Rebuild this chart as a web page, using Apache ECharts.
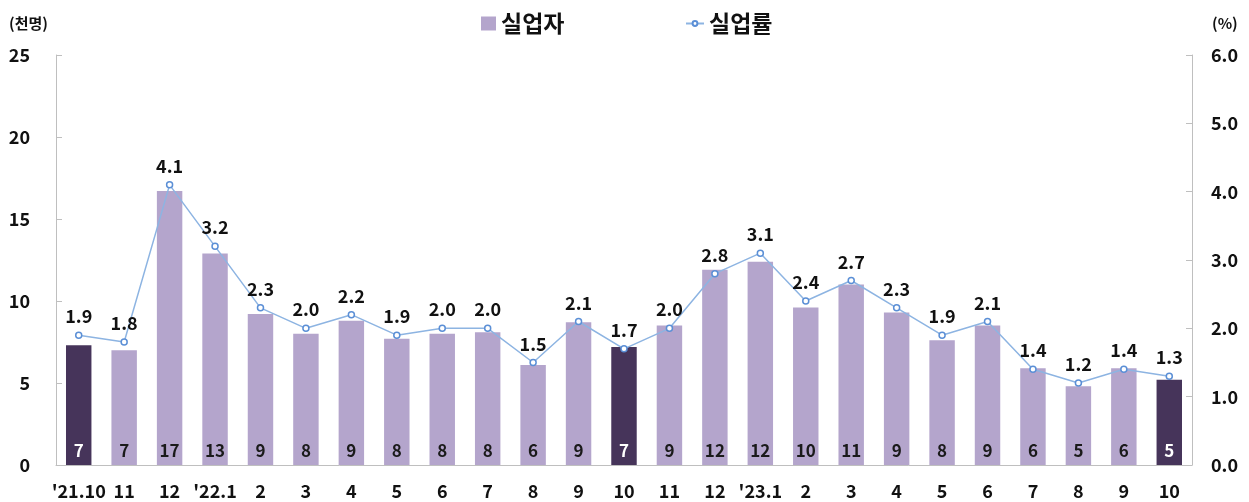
<!DOCTYPE html>
<html><head><meta charset="utf-8">
<script src="https://cdn.jsdelivr.net/npm/echarts@6/dist/echarts.min.js"></script>
<style>html,body{margin:0;padding:0;background:#fff}#c{width:1249px;height:502px}</style>
</head><body><div id="c"></div>
<script>
const categories = ["'21.10","11","12","'22.1","2","3","4","5","6","7","8","9","10","11","12","'23.1","2","3","4","5","6","7","8","9","10"];
const unemployed = [7.3,7.0,16.7,12.9,9.2,8.0,8.8,7.7,8.0,8.1,6.1,8.7,7.2,8.5,11.9,12.4,9.6,11.0,9.3,7.6,8.5,5.9,4.8,5.9,5.2];
const unemployedLabels = [7,7,17,13,9,8,9,8,8,8,6,9,7,9,12,12,10,11,9,8,9,6,5,6,5];
const rate = [1.9,1.8,4.1,3.2,2.3,2.0,2.2,1.9,2.0,2.0,1.5,2.1,1.7,2.0,2.8,3.1,2.4,2.7,2.3,1.9,2.1,1.4,1.2,1.4,1.3];
const highlighted = [0,12,24];
const leftTicks = [0,5,10,15,20,25];
const rightTicks = [0,1,2,3,4,5,6];

const FONT = '"Noto Sans CJK KR","Noto Sans",sans-serif';
const LIGHT = '#b4a5cc', DARK = '#46345a', LINE = '#8db4e2';

const barData = unemployed.map((v,i)=>({
  value:v,
  itemStyle:{color: highlighted.includes(i)?DARK:LIGHT},
  label:{color: highlighted.includes(i)?'#ffffff':'#1a1a1a'}
}));

const legendText = {fontSize:23,fontWeight:'bold',color:'#111',fontFamily:FONT};
const axisText = {fontSize:18,fontWeight:'bold',color:'#111',fontFamily:FONT};

const chart = echarts.init(document.getElementById('c'));
chart.setOption({
  animation:false,
  textStyle:{fontFamily:FONT},
  legend:[{
    top:7, left:476, itemGap:8,
    itemWidth:15, itemHeight:14,
    textStyle:legendText,
    data:[{name:'실업자',icon:'rect'}]
  },{
    top:7, left:680, itemGap:8,
    itemWidth:18, itemHeight:6,
    textStyle:legendText,
    data:[{name:'실업률'}]
  }],
  grid:{left:56,right:57,top:55,bottom:37},
  xAxis:{
    type:'category', data:categories,
    axisLine:{lineStyle:{color:'#bfbfbf'}},
    axisTick:{show:false},
    axisLabel:Object.assign({margin:17,interval:0},axisText)
  },
  yAxis:[{
    type:'value', min:0, max:25, interval:5,
    name:'(천명)', nameLocation:'end', nameGap:24,
    nameTextStyle:{fontSize:15,fontWeight:'bold',color:'#111',align:'right',padding:[0,8,0,0]},
    axisLine:{show:true,lineStyle:{color:'#bfbfbf'}},
    axisTick:{show:true,inside:true,length:6,lineStyle:{color:'#bfbfbf'}},
    splitLine:{show:false},
    axisLabel:Object.assign({margin:26},axisText)
  },{
    type:'value', min:0, max:6, interval:1,
    name:'(%)', nameLocation:'end', nameGap:24,
    nameTextStyle:{fontSize:15,fontWeight:'bold',color:'#111',align:'left',padding:[0,0,0,20]},
    axisLine:{show:true,lineStyle:{color:'#bfbfbf'}},
    axisTick:{show:true,inside:true,length:6,lineStyle:{color:'#bfbfbf'}},
    splitLine:{show:false},
    axisLabel:Object.assign({margin:19,formatter:v=>v.toFixed(1)},axisText)
  }],
  series:[{
    name:'실업자', type:'bar', data:barData, barWidth:'56%',
    itemStyle:{color:LIGHT},
    label:{show:true,position:'insideBottom',distance:6,fontSize:17,fontWeight:'bold',
      fontFamily:FONT,formatter:p=>unemployedLabels[p.dataIndex]}
  },{
    name:'실업률', type:'line', yAxisIndex:1, data:rate,
    symbol:'circle', symbolSize:6,
    itemStyle:{color:'#ffffff',borderColor:'#5b8fd6',borderWidth:1.5},
    lineStyle:{color:LINE,width:1.5},
    label:{show:true,position:'top',distance:6,fontSize:18,fontWeight:'bold',color:'#111',
      fontFamily:FONT,formatter:p=>p.value.toFixed(1)}
  }]
});
</script></body></html>
